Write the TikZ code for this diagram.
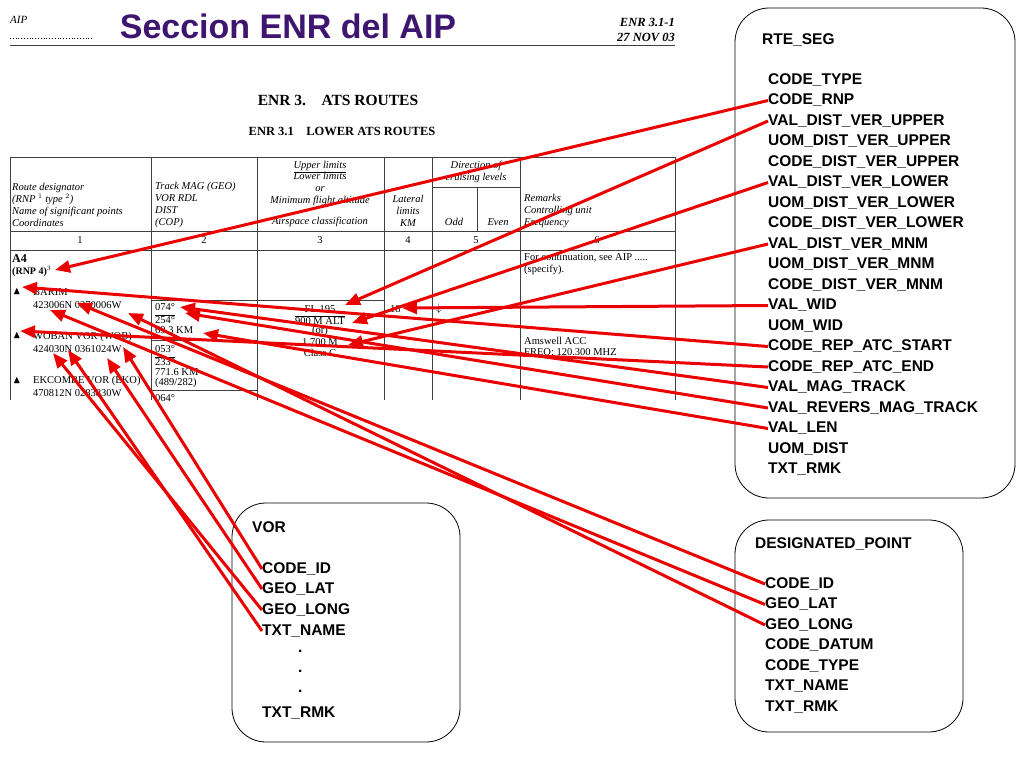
\documentclass[tikz,border=0pt]{standalone}
\usepackage{amssymb}
\usepackage{fontspec}
\setmainfont{Liberation Serif}
\newfontfamily\arialf{Liberation Sans}
\usetikzlibrary{arrows.meta}
\definecolor{titlepurple}{RGB}{62,22,112}
\definecolor{arrred}{RGB}{235,0,0}
\tikzset{
  fld/.style={anchor=west, inner sep=0pt, font=\arialf\bfseries\fontsize{15.5}{18}\selectfont},
  box/.style={draw, rounded corners=34pt, line width=0.8pt},
  tab/.style={anchor=west, inner sep=0pt, font=\itshape\fontsize{10.5}{12}\selectfont},
  tabc/.style={tab, anchor=center},
  txt/.style={anchor=west, inner sep=0pt, font=\fontsize{10.5}{12}\selectfont},
  grid/.style={line width=0.7pt, black!75},
  arr/.style={-{Triangle[length=15pt,width=12pt]}, arrred, line width=3pt},
}
\begin{document}
\begin{tikzpicture}[x=1pt,y=-1pt]
  \useasboundingbox (0,0) rectangle (1024,768);
  % page header
  \node[anchor=west, inner sep=0pt, font=\itshape\fontsize{11}{12}\selectfont] (aip) at (10,20) {AIP};
  \draw[dotted, line width=0.8pt] (10,38) -- (92,38);
  \node[inner sep=0pt, font=\arialf\bfseries\fontsize{34}{36}\selectfont, text=titlepurple] (title) at (288,26) {Seccion ENR del AIP};
  \node[anchor=east, inner sep=0pt, font=\bfseries\itshape\fontsize{12.5}{15}\selectfont, align=right] (page) at (675,30) {ENR 3.1-1\\27 NOV 03};
  \draw[grid] (10,45) -- (675,45);
  \node[inner sep=0pt, font=\bfseries\fontsize{15.5}{16}\selectfont] (enr) at (338,100) {ENR 3.\quad ATS ROUTES};
  \node[inner sep=0pt, font=\bfseries\fontsize{12.5}{14}\selectfont] (lower) at (342,131) {ENR 3.1\quad LOWER ATS ROUTES};

  % table grid
  \draw[grid] (10,157) -- (675,157);
  \draw[grid] (10,231) -- (675,231);
  \draw[grid] (10,250) -- (675,250);
  \draw[grid] (432,187) -- (520,187);
  \draw[grid] (477,187) -- (477,231);
  \foreach \x in {10,151,257,384,432,520,675}
    \draw[grid] (\x,157) -- (\x,400);
  \draw[grid] (151,300) -- (384,300);
  \draw[grid] (151,340) -- (257,340);
  \draw[grid] (151,390) -- (257,390);

  % table header
  \node[tab, align=left] (h1) at (12,205) {Route designator\\(RNP $^1$ type $^2$)\\Name of significant points\\Coordinates};
  \node[tab, align=left] (h2) at (155,205) {Track MAG (GEO)\\VOR RDL\\DIST\\(COP)};
  \node[tabc] (h3a) at (320,167) {\underline{Upper limits}};
  \node[tabc, align=center] (h3b) at (320,189) {Lower limits\\or\\Minimum flight altitude};
  \node[tabc] (h3c) at (320,222) {Airspace classification};
  \node[tabc, align=center] (h4) at (408,211) {Lateral\\limits\\KM};
  \node[tabc, align=center] (h5) at (476,172) {Direction of\\cruising levels};
  \node[tabc] (odd) at (454,222) {Odd};
  \node[tabc] (even) at (498,222) {Even};
  \node[tab, align=left] (h6) at (524,211) {Remarks\\Controlling unit\\Frequency};
  \foreach \x/\n [count=\i] in {80/1,204/2,320/3,408/4,476/5,597/6}
    \node[inner sep=0pt, font=\fontsize{10.5}{12}\selectfont] (num\i) at (\x,240) {\n};

  % table body
  \node[txt, font=\bfseries\fontsize{12}{13}\selectfont] (a4) at (12,259) {A4};
  \node[txt, font=\bfseries\fontsize{10}{12}\selectfont] (rnp) at (12,271) {(RNP 4)$^3$};
  \node[txt] (cont) at (524,264) {\begin{tabular}{@{}l@{}}For continuation, see AIP .....\\(specify).\end{tabular}};
  \node[txt] (tri1) at (13,292) {$\blacktriangle$};
  \node[txt] (barim) at (33,292) {BARIM};
  \node[txt] (barimc) at (33,305) {423006N 0370006W};
  \node[txt] (tri2) at (13,336) {$\blacktriangle$};
  \node[txt] (woban) at (33,337) {WOBAN VOR (WOB)};
  \node[txt] (wobanc) at (33,349) {424030N 0361024W};
  \node[txt] (tri3) at (13,381) {$\blacktriangle$};
  \node[txt] (ekco) at (33,381) {EKCOMBE VOR (EKO)};
  \node[txt] (ekcoc) at (33,393) {470812N 0283830W};
  \node[txt] (trk1) at (155,307) {074°};
  \node[txt] (trk2) at (155,319) {$\overline{\mbox{254°}}$};
  \node[txt] (dist1) at (155,330) {69.3 KM};
  \node[txt] (trk3) at (155,349) {053°};
  \node[txt] (trk4) at (155,361) {$\overline{\mbox{233°}}$};
  \node[txt] (dist2) at (155,372) {771.6 KM};
  \node[txt] (cop) at (155,383) {(489/282)};
  \node[txt] (trk5) at (155,398) {064°};
  \node[tabc, font=\fontsize{10.5}{12}\selectfont] (fl) at (320,309) {FL 195};
  \node[tabc, font=\fontsize{10.5}{12}\selectfont] (alt) at (320,320) {$\overline{\mbox{900 M ALT}}$};
  \node[tabc, font=\fontsize{10.5}{12}\selectfont] (or) at (320,331) {(or)};
  \node[tabc, font=\fontsize{10.5}{12}\selectfont] (mnm) at (320,342) {1 700 M};
  \node[tabc, font=\fontsize{10.5}{12}\selectfont] (cls) at (320,353) {Class C};
  \node[txt] (lat) at (390,309) {18};
  \node[txt] (dir) at (436,309) {$\downarrow$};
  \node[txt] (acc) at (524,341) {Amswell ACC};
  \node[txt] (freq) at (524,353) {FREQ: 120.300 MHZ};

  % boxes
  \draw[box] (735,8) rectangle (1015,498);
  \draw[box] (232,503) rectangle (460,742);
  \draw[box] (735,520) rectangle (963,732);

  \node[fld] (rte) at (762,40) {RTE\_SEG};
  \foreach \f/\t [count=\i from 0] in {ctype/CODE\_TYPE, crnp/CODE\_RNP, vdu/VAL\_DIST\_VER\_UPPER, udu/UOM\_DIST\_VER\_UPPER, cdu/CODE\_DIST\_VER\_UPPER, vdl/VAL\_DIST\_VER\_LOWER, udl/UOM\_DIST\_VER\_LOWER, cdl/CODE\_DIST\_VER\_LOWER, vdm/VAL\_DIST\_VER\_MNM, udm/UOM\_DIST\_VER\_MNM, cdm/CODE\_DIST\_VER\_MNM, vwid/VAL\_WID, uwid/UOM\_WID, cras/CODE\_REP\_ATC\_START, crae/CODE\_REP\_ATC\_END, vmag/VAL\_MAG\_TRACK, vrev/VAL\_REVERS\_MAG\_TRACK, vlen/VAL\_LEN, udist/UOM\_DIST, rrmk/TXT\_RMK}
    \node[fld] (\f) at (768,80+20.5*\i) {\t};

  \node[fld] (vor) at (252,527) {VOR};
  \foreach \f/\t/\y in {vid/CODE\_ID/569, vlat/GEO\_LAT/589, vlong/GEO\_LONG/610, vname/TXT\_NAME/631, vrmk/TXT\_RMK/713}
    \node[fld] (\f) at (262,\y) {\t};
  \foreach \y [count=\i] in {651,671,691}
    \node[fld] (vdot\i) at (298,\y) {.};

  \node[fld] (dp) at (755,544) {DESIGNATED\_POINT};
  \foreach \f/\t [count=\i from 0] in {did/CODE\_ID, dlat/GEO\_LAT, dlong/GEO\_LONG, ddat/CODE\_DATUM, dtype/CODE\_TYPE, dname/TXT\_NAME, drmk/TXT\_RMK}
    \node[fld] (\f) at (765,584+20.5*\i) {\t};

  % arrow targets
  \coordinate (t-rnp) at (55,270);
  \coordinate (t-fl) at (345,305);
  \coordinate (t-alt) at (352,323);
  \coordinate (t-mnm) at (348,345);
  \coordinate (t-lat) at (402,308);
  \coordinate (t-tri1) at (22,287);
  \coordinate (t-tri2) at (20,331);
  \coordinate (t-trk1) at (180,307);
  \coordinate (t-trk2) at (185,313);
  \coordinate (t-dist) at (203,333);
  \coordinate (t-bname) at (77,303);
  \coordinate (t-blat) at (50,310);
  \coordinate (t-blong) at (128,313);
  \coordinate (t-wa) at (123,347);
  \coordinate (t-wb) at (107,358);
  \coordinate (t-wc) at (53,353);
  \coordinate (t-wd) at (68,350);

  % connectors
  \draw[arr] (crnp.west) -- (t-rnp);
  \draw[arr] (vdu.west) -- (t-fl);
  \draw[arr] (vdl.west) -- (t-alt);
  \draw[arr] (vdm.west) -- (t-mnm);
  \draw[arr] (vwid.west) -- (t-lat);
  \draw[arr] (cras.west) -- (t-tri1);
  \draw[arr] (crae.west) -- (t-tri2);
  \draw[arr] (vmag.west) -- (t-trk1);
  \draw[arr] (vrev.west) -- (t-trk2);
  \draw[arr] (vlen.west) -- (t-dist);
  \draw[arr] (did.west) -- (t-bname);
  \draw[arr] (dlat.west) -- (t-blat);
  \draw[arr] (dlong.west) -- (t-blong);
  \draw[arr] (vid.west) -- (t-wa);
  \draw[arr] (vlat.west) -- (t-wb);
  \draw[arr] (vlong.west) -- (t-wc);
  \draw[arr] (vname.west) -- (t-wd);
\end{tikzpicture}
\end{document}
